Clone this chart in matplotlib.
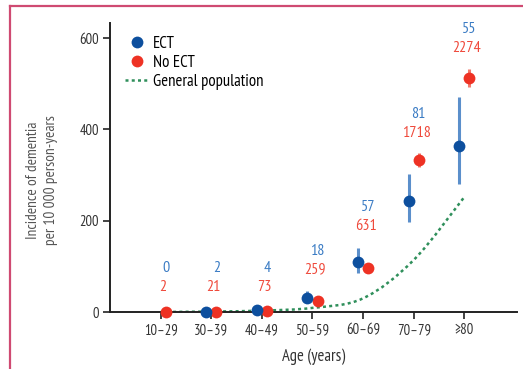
import numpy as np
import matplotlib
matplotlib.use("Agg")
import matplotlib.pyplot as plt
from matplotlib.lines import Line2D
from matplotlib.path import Path
from matplotlib.patches import PathPatch

plt.rcParams['font.family'] = ['PT Sans Narrow', 'DejaVu Sans']

# Age bands
age_groups = ["10–29", "30–39", "40–49", "50–59", "60–69", "70–79", "≥80"]

# Dementia cases per group
ect_cases = [0, 2, 4, 18, 57, 81, 55]
no_ect_cases = [2, 21, 73, 259, 631, 1718, 2274]

# Incidence per 10 000 person-years with 95% CI
ect_rate = [np.nan, 1, 5, 31, 110, 243, 364]
ect_lo = [np.nan, 0, 2, 20, 85, 198, 280]
ect_hi = [np.nan, 4, 10, 46, 141, 302, 472]

no_ect_rate = [0.5, 1, 3, 24, 97, 333, 512]
no_ect_lo = [0, 0.5, 2, 21, 89, 318, 492]
no_ect_hi = [2, 2, 4, 27, 105, 349, 532]

general_population = [0, 1, 3, 9, 30, 114, 252]

# Heights of the case-count annotations
count_label_y = [96, 96, 96, 134, 230, 434, 620]

BLUE = "#0d4f9e"
BLUE_BAR = "#5b8fcb"
BLUE_TXT = "#3b7cc4"
RED = "#ee3224"
RED_BAR = "#f27a6c"
RED_TXT = "#ef4a3c"
GREEN = "#2f8f5b"
FRAME = "#cf4a72"

fig = plt.figure(figsize=(5.23, 3.69), dpi=100)
ax = fig.add_axes([110 / 523, 1 - 312 / 369, 407 / 523, 289 / 369])

x = np.arange(len(age_groups))
off = 0.1


def smooth_path(xs, ys):
    # Catmull-Rom spline through the points, expressed as cubic Beziers
    pts = np.column_stack([xs, ys]).astype(float)
    verts = [pts[0]]
    codes = [Path.MOVETO]
    n = len(pts)
    for i in range(n - 1):
        p0 = pts[i - 1] if i > 0 else pts[i]
        p1 = pts[i]
        p2 = pts[i + 1]
        p3 = pts[i + 2] if i + 2 < n else pts[i + 1]
        c1 = p1 + (p2 - p0) / 6.0
        c2 = p2 - (p3 - p1) / 6.0
        c1[1] = max(c1[1], 0)
        c2[1] = max(c2[1], 0)
        verts += [c1, c2, p2]
        codes += [Path.CURVE4] * 3
    return Path(verts, codes)


gp = PathPatch(smooth_path(x, general_population), fill=False, edgecolor=GREEN,
               lw=1.8, linestyle=(0, (1.2, 1.3)), zorder=2, transform=ax.transData)
ax.add_patch(gp)

ect_rate_a = np.array(ect_rate, dtype=float)
no_rate_a = np.array(no_ect_rate, dtype=float)
ect_err = [ect_rate_a - np.array(ect_lo, dtype=float), np.array(ect_hi, dtype=float) - ect_rate_a]
no_err = [no_rate_a - np.array(no_ect_lo, dtype=float), np.array(no_ect_hi, dtype=float) - no_rate_a]

ax.errorbar(x - off, ect_rate_a, yerr=ect_err, fmt="o", color=BLUE, ecolor=BLUE_BAR,
            elinewidth=2.2, capsize=0, markersize=8.5, markeredgewidth=0, zorder=4,
            clip_on=False)
ax.errorbar(x + off, no_rate_a, yerr=no_err, fmt="o", color=RED, ecolor=RED_BAR,
            elinewidth=2.2, capsize=0, markersize=8.5, markeredgewidth=0, zorder=3,
            clip_on=False)

for xi, n_ect, n_no, ly in zip(x, ect_cases, no_ect_cases, count_label_y):
    ax.text(xi + 0.1, ly, str(n_ect), color=BLUE_TXT, fontsize=11.5,
            ha="center", va="center")
    ax.text(xi + 0.05, ly - 41, str(n_no), color=RED_TXT, fontsize=11.5,
            ha="center", va="center")

ax.set_xlim(-1.0, 7.04)
ax.set_ylim(0, 633)
ax.set_xticks(x)
ax.set_xticklabels(age_groups)
ax.set_yticks([0, 200, 400, 600])

for s in ["top", "right"]:
    ax.spines[s].set_visible(False)
for s in ["left", "bottom"]:
    ax.spines[s].set_linewidth(1.4)
    ax.spines[s].set_color("#222222")
ax.tick_params(axis="both", length=5, width=1.2, color="#222222",
               labelsize=10.5, labelcolor="#333333", pad=3)

ax.set_xlabel("Age (years)", fontsize=12, color="#333333", labelpad=8)
fig.text(42 / 523, 1 - 180 / 369, "Incidence of dementia\nper 10 000 person-years",
         rotation=90, ha="center", va="center", fontsize=11, color="#555555",
         linespacing=1.35)

handles = [
    Line2D([], [], marker="o", ls="none", color=BLUE, markersize=8.5, markeredgewidth=0),
    Line2D([], [], marker="o", ls="none", color=RED, markersize=8.5, markeredgewidth=0),
    Line2D([], [], color=GREEN, lw=1.8, ls=(0, (1.2, 1.3))),
]
ax.legend(handles, ["ECT", "No ECT", "General population"], loc="upper left",
          bbox_to_anchor=(15 / 407, 1 - 13 / 289), frameon=False, fontsize=12,
          handlelength=1.4, handletextpad=0.3, labelspacing=0.18,
          borderaxespad=0, borderpad=0)

# Figure border (left and top edges)
fig.add_artist(Line2D([10 / 523, 10 / 523], [0, 1 - 6 / 369], color=FRAME, lw=1.6,
                      transform=fig.transFigure))
fig.add_artist(Line2D([10 / 523, 1], [1 - 6 / 369, 1 - 6 / 369], color=FRAME, lw=1.6,
                      transform=fig.transFigure))

fig.savefig("out.png", dpi=100)
